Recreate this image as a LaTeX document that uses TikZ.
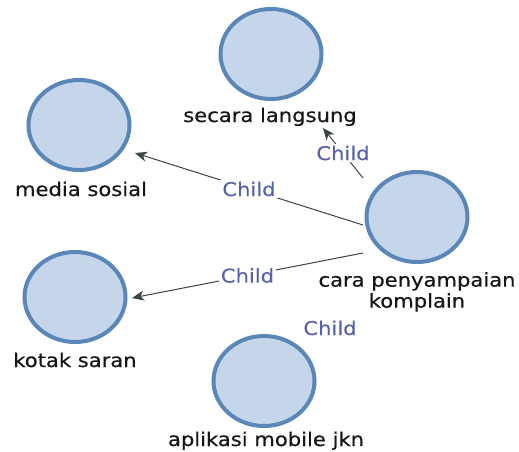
\documentclass[tikz,border=0pt]{standalone}
\usepackage{fontspec}
\setmainfont{DejaVu Sans}[FakeStretch=1.11, FakeBold=0.4]
\newfontfamily\childfont{DejaVu Sans}[FakeStretch=1.11, FakeBold=0.15]
\usetikzlibrary{shapes.geometric,arrows.meta}
\definecolor{ringblue}{HTML}{5A86B8}
\definecolor{fillblue}{HTML}{C6D6EA}
\definecolor{edgegray}{HTML}{3A4444}
\definecolor{childblue}{HTML}{5862AA}
\definecolor{textdark}{HTML}{161616}
\tikzset{
  topic/.style={ellipse, draw=ringblue, fill=fillblue, line width=4pt,
    minimum width=101pt, minimum height=90pt, inner sep=0pt},
  caption/.style={text=textdark, font=\fontsize{19}{21}\selectfont,
    inner sep=0pt, align=center},
  childlbl/.style={text=childblue, font=\childfont\fontsize{19}{20}\selectfont,
    fill=white, inner sep=2pt},
  link/.style={draw=edgegray, line width=1pt,
    -{Stealth[length=12pt,width=10pt,inset=3.5pt]}}
}
\begin{document}
\begin{tikzpicture}[x=1pt,y=-1pt]
  \path[fill=white] (0,0) rectangle (519,452);
  \useasboundingbox (0,0) rectangle (519,452);

  % topic circles
  \node[topic] (sec)  at (271,54)  {};
  \node[topic] (med)  at (79,125)  {};
  \node[topic] (cara) at (417,217) {};
  \node[topic] (kot)  at (75,297)  {};
  \node[topic] (apl)  at (264,381) {};

  % captions under the circles
  \node[caption, anchor=base] (lsec) at (270,122) {secara langsung};
  \node[caption, anchor=base] (lmed) at (81,196) {media sosial};
  \node[caption, anchor=base] (lkot) at (75,367) {kotak saran};
  \node[caption, anchor=base] (lapl) at (266,446) {aplikasi mobile jkn};
  \node[caption, anchor=north] (lcara) at (417,272) {cara penyampaian\\komplain};

  % child links from the central topic
  \draw[link] ([shift={(-54,-39)}]cara.center) -- ([shift={(52,74)}]sec.center)
    node[childlbl, midway] (c1) {Child};
  \draw[link] ([shift={(-54,8)}]cara.center) -- ([shift={(56,28)}]med.center)
    node[childlbl, midway] (c2) {Child};
  \draw[link] ([shift={(-54,36)}]cara.center) -- ([shift={(57,1)}]kot.center)
    node[childlbl, midway] (c3) {Child};
  \node[childlbl, anchor=base] (c4) at (330,335) {Child};
\end{tikzpicture}
\end{document}
